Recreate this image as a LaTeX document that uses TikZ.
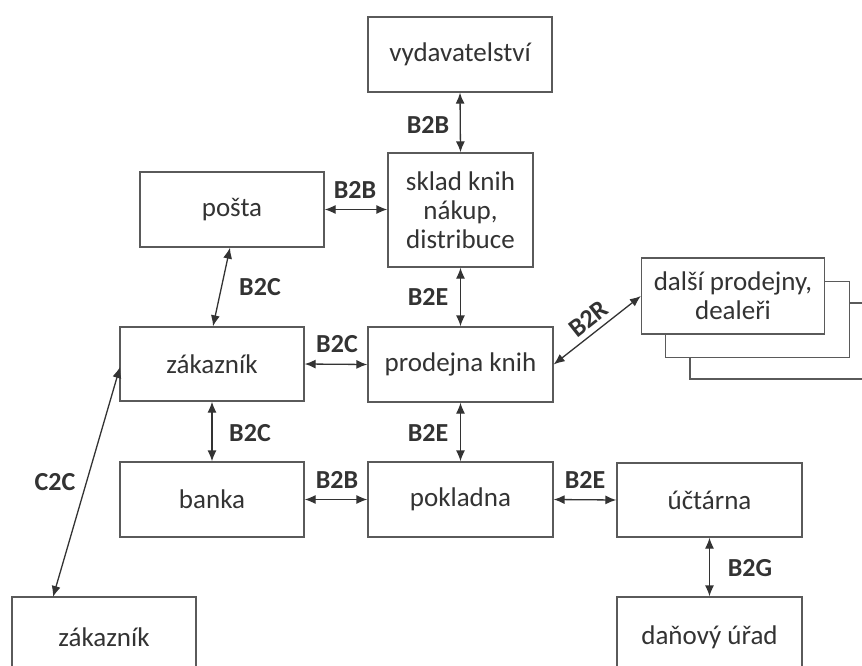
\documentclass[tikz,border=0pt]{standalone}
\usepackage{fontspec}
\setmainfont{Carlito}
\usetikzlibrary{arrows.meta}
\definecolor{txt}{HTML}{333333}
\definecolor{edge}{HTML}{5A5A5A}
\definecolor{arr}{HTML}{333333}
\tikzset{
  box/.style={draw=edge, line width=1.3pt, fill=white, text=txt, align=center, inner sep=2pt, font=\fontsize{27}{29}\selectfont},
  link/.style={draw=arr, line width=1.3pt, {Latex[length=11pt,width=9pt]}-{Latex[length=11pt,width=9pt]}},
  lbl/.style={text=txt, font=\fontsize{26}{28}\selectfont\bfseries, inner sep=1pt},
}
\begin{document}
\begin{tikzpicture}[x=1pt,y=-1pt]
\path[use as bounding box, fill=white] (0,0) rectangle (862,666);
% boxes
\node[box, minimum width=184pt, minimum height=75pt] (vyd) at (460,54.5) {vydavatelství};
\node[box, minimum width=145pt, minimum height=114pt] (sklad) at (460.5,210) {sklad knih\\nákup,\\distribuce};
\node[box, minimum width=184pt, minimum height=75pt] (posta) at (232,209.5) {pošta};
\node[box, minimum width=184pt, minimum height=74pt] (zak) at (212,364) {zákazník};
\node[box, minimum width=185pt, minimum height=75pt] (prod) at (460.5,364.5) {prodejna knih};
% stacked boxes
\node[box, minimum width=184pt, minimum height=76pt] (d3) at (782,341) {};
\node[box, minimum width=184pt, minimum height=76pt] (d2) at (757.5,319.5) {};
\node[box, minimum width=183pt, minimum height=76pt] (dal) at (733,296) {další prodejny,\\dealeři};
\node[box, minimum width=184pt, minimum height=75pt] (banka) at (212,499.5) {banka};
\node[box, minimum width=185pt, minimum height=75pt] (pok) at (460.5,499.5) {pokladna};
\node[box, minimum width=185pt, minimum height=74pt] (uct) at (709.5,500) {účtárna};
\node[box, minimum width=185pt, minimum height=80pt] (dan) at (709.5,637) {daňový úřad};
\node[box, minimum width=184pt, minimum height=80pt] (zak2) at (104,637) {zákazník};
% connectors
\draw[link] (vyd.south) -- (sklad.north);
\draw[link] (posta.east) -- (sklad.west |- posta.east);
\draw[link] (sklad.south) -- (prod.north);
\draw[link] (posta.south -| 230,0) -- (zak.north -| 213,0);
\draw[link] (zak.east) -- (prod.west);
\draw[link] (prod.east) -- node[lbl, sloped, above=4pt, pos=0.5] (l12) {B2R} (dal.west);
\draw[link] (zak.south) -- (banka.north);
\draw[link] (prod.south) -- (pok.north);
\draw[link] (banka.east) -- (pok.west);
\draw[link] (pok.east) -- (uct.west);
\draw[link] (uct.south) -- (dan.north);
\coordinate (c2ca) at (53,597);
\coordinate (c2cb) at (120,367);
\draw[link] (c2ca) -- (c2cb);
% labels
\node[lbl] (l1) at (428,125) {B2B};
\node[lbl] (l2) at (355,190) {B2B};
\node[lbl] (l3) at (428,297) {B2E};
\node[lbl] (l4) at (260,287) {B2C};
\node[lbl] (l5) at (337,344) {B2C};
\node[lbl] (l6) at (250,433) {B2C};
\node[lbl] (l7) at (428,433) {B2E};
\node[lbl] (l8) at (337,480) {B2B};
\node[lbl] (l9) at (585,480) {B2E};
\node[lbl] (l10) at (750,568) {B2G};
\node[lbl] (l11) at (55,482) {C2C};
\end{tikzpicture}
\end{document}
